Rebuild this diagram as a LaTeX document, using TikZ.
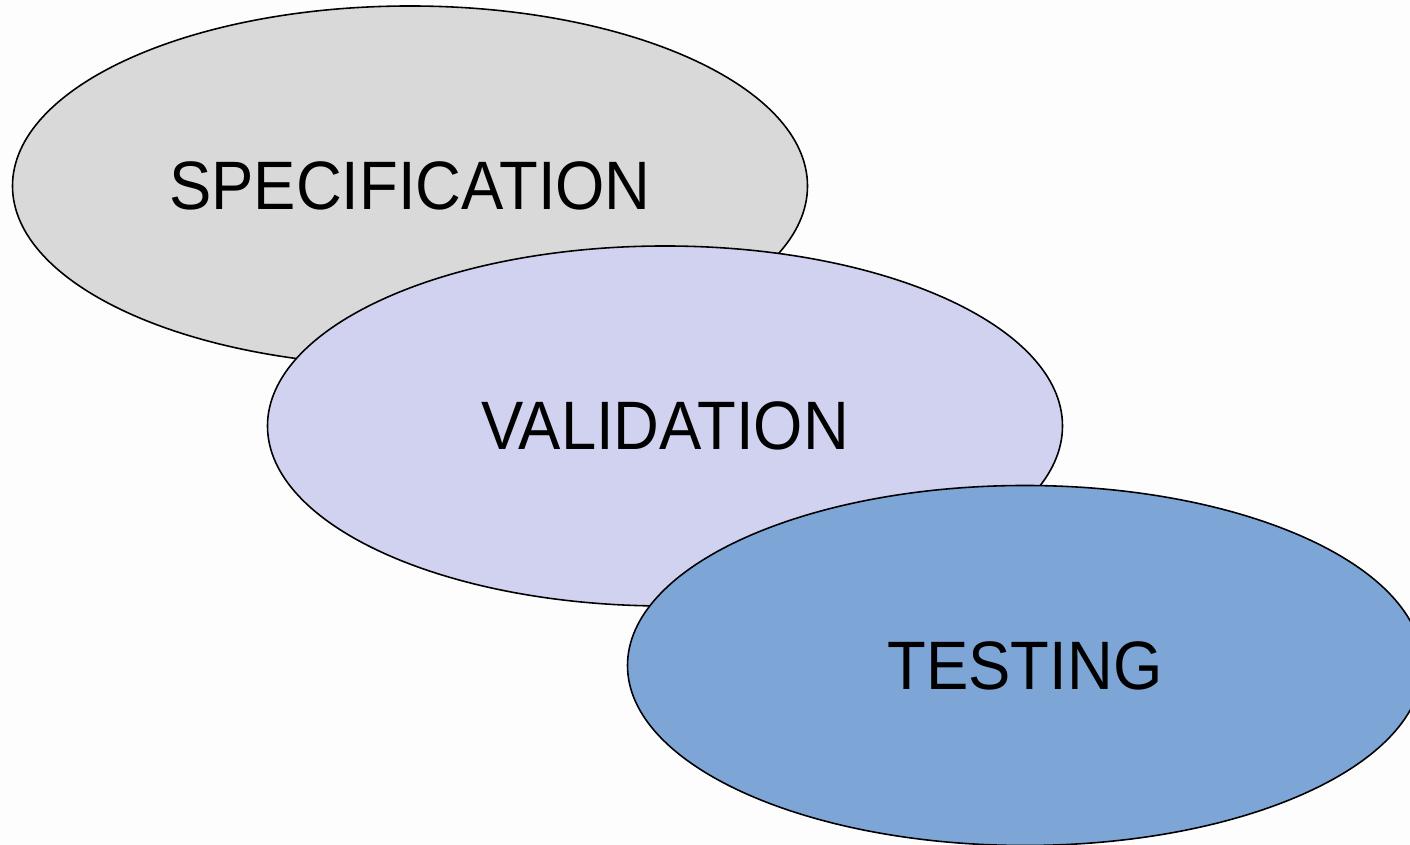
\documentclass[tikz,border=0pt]{standalone}
\usepackage{fontspec}
\usetikzlibrary{shapes.geometric}
\newfontfamily\phasefont[FakeStretch=0.925]{Liberation Sans}
\definecolor{specgray}{HTML}{D9D9D9}
\definecolor{validlav}{HTML}{D0D2EF}
\definecolor{testblue}{HTML}{7DA6D7}
\definecolor{paper}{HTML}{FDFDFD}

\begin{document}
\begin{tikzpicture}[phase/.style={ellipse,draw,line width=.9pt,inner sep=0pt,minimum width=15.9cm,minimum height=7.2cm,font=\phasefont\fontsize{39pt}{39pt}\selectfont}]
\fill[paper](0,0)rectangle(28.2,16.9);
\useasboundingbox(0,0)rectangle(28.2,16.9);
% the three phases, each one partly over the one before
\node[phase,fill=specgray](spec)at(8.2,13.18){SPECIFICATION};
\node[phase,fill=validlav](valid)at(13.3,8.38){VALIDATION};
\node[phase,fill=testblue](test)at(20.5,3.59){TESTING};
\end{tikzpicture}
\end{document}
